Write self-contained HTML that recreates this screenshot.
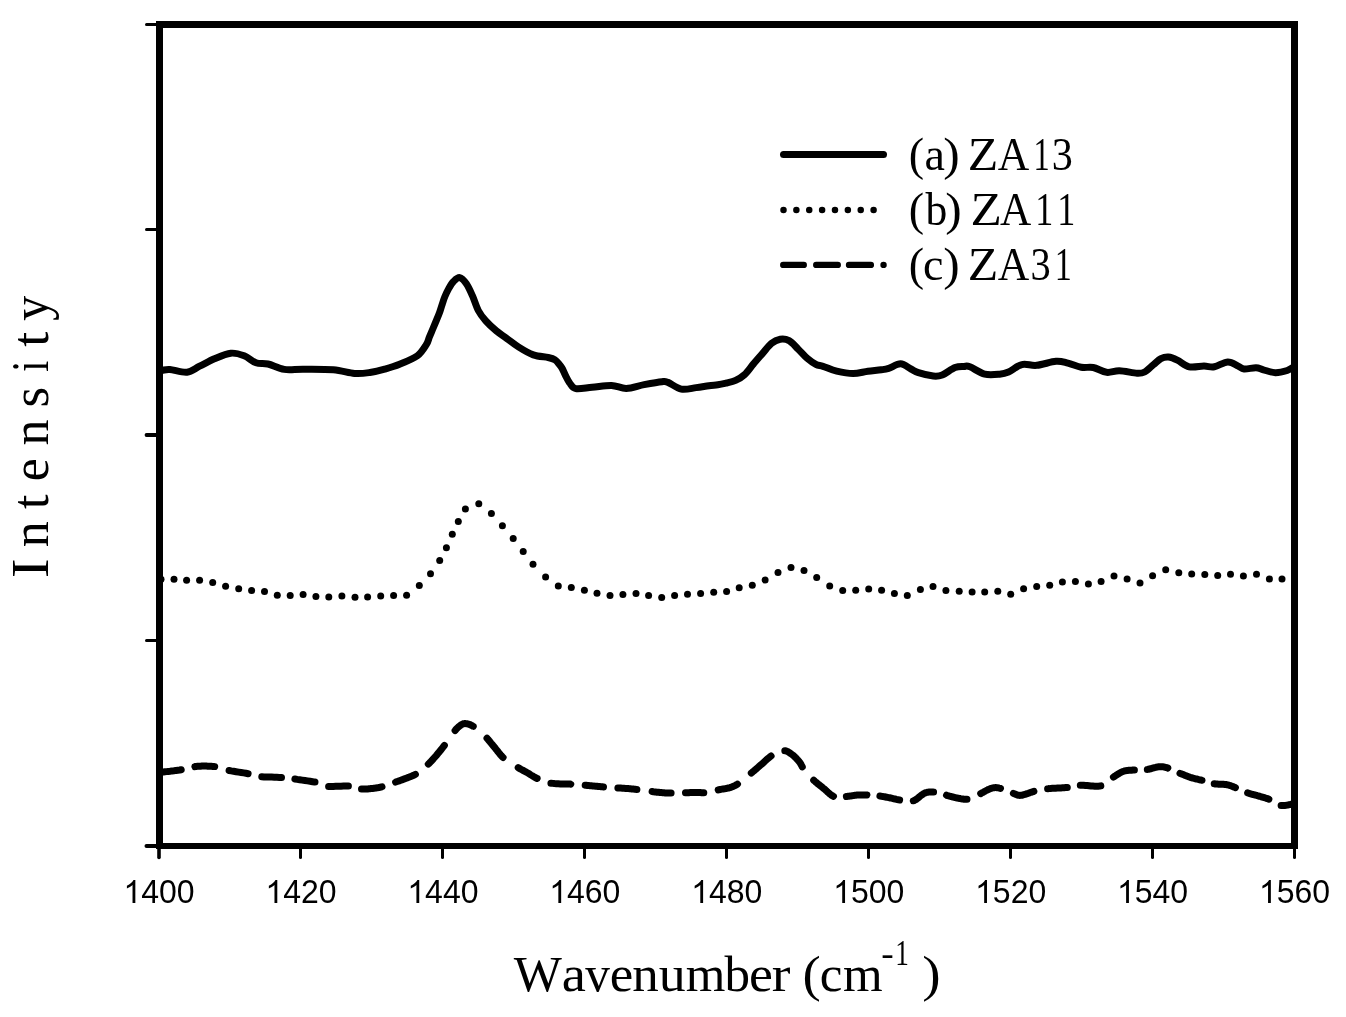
<!DOCTYPE html>
<html><head><meta charset="utf-8"><title>Spectra</title>
<style>
html,body{margin:0;padding:0;background:#fff;}
body{width:1346px;height:1017px;overflow:hidden;font-family:"Liberation Sans",sans-serif;}
svg{display:block;will-change:transform;}
</style></head><body>
<svg width="1346" height="1017" viewBox="0 0 1346 1017"><defs><clipPath id="pc"><rect x="159.5" y="24.5" width="1135" height="821"/></clipPath></defs>
<g clip-path="url(#pc)" fill="none" stroke="#000" stroke-linejoin="round" stroke-linecap="round">
<path d="M159.5,370.5 C160.0,370.5 160.7,370.5 162.4,370.3 C164.1,370.1 165.8,369.2 169.9,369.5 C174.0,369.8 182.1,372.8 187.0,372.2 C191.9,371.6 195.0,368.4 199.6,366.2 C204.2,364.0 209.2,361.0 214.4,358.8 C219.6,356.6 225.8,353.7 230.8,353.2 C235.8,352.7 240.0,354.2 244.2,355.8 C248.4,357.4 252.0,361.4 256.0,362.8 C260.0,364.2 263.3,362.9 268.0,364.0 C272.7,365.1 278.4,368.5 284.3,369.4 C290.2,370.3 295.4,369.1 303.6,369.2 C311.8,369.2 324.8,369.0 333.3,369.7 C341.8,370.4 348.4,372.9 354.5,373.4 C360.6,373.9 364.9,373.2 369.9,372.5 C374.9,371.8 379.8,370.6 384.7,369.2 C389.6,367.8 394.2,366.5 399.6,364.3 C405.1,362.1 412.9,359.1 417.4,355.8 C421.8,352.5 424.3,347.8 426.3,344.7 C428.3,341.6 428.1,340.3 429.2,337.5 C430.3,334.7 432.0,330.9 433.2,328.0 C434.4,325.1 435.4,322.7 436.5,320.1 C437.6,317.5 438.8,314.8 439.7,312.2 C440.6,309.6 441.3,306.9 442.2,304.3 C443.1,301.7 443.8,299.1 444.9,296.5 C446.0,293.9 447.3,291.1 448.7,288.6 C450.1,286.1 451.7,283.3 453.5,281.5 C455.3,279.7 457.6,277.2 459.7,277.6 C461.8,278.0 464.3,280.8 466.4,283.8 C468.5,286.8 470.4,291.2 472.4,295.7 C474.4,300.1 476.1,306.3 478.3,310.5 C480.5,314.7 482.8,317.5 485.8,320.9 C488.8,324.3 492.7,327.9 496.2,330.8 C499.7,333.7 502.9,335.6 506.6,338.3 C510.3,341.0 514.0,344.1 518.4,346.9 C522.8,349.7 528.3,353.1 533.3,354.9 C538.3,356.7 544.6,356.7 548.2,357.5 C551.8,358.3 553.1,358.6 555.0,359.9 C556.9,361.1 558.5,363.5 559.8,365.0 C561.0,366.5 561.6,367.3 562.5,369.0 C563.4,370.7 564.1,372.8 565.3,375.1 C566.5,377.4 567.9,380.6 569.6,382.9 C571.4,385.1 572.0,387.9 575.8,388.6 C579.5,389.3 586.1,387.8 592.1,387.3 C598.1,386.8 605.8,385.2 611.5,385.4 C617.2,385.6 620.8,388.5 626.3,388.4 C631.8,388.3 638.2,385.7 644.2,384.6 C650.2,383.5 658.0,382.1 662.0,381.7 C666.0,381.3 664.8,381.2 668.0,382.4 C671.2,383.6 676.6,388.2 681.3,389.1 C686.0,390.0 691.6,388.2 696.2,387.6 C700.8,387.0 705.3,386.2 708.9,385.7 C712.5,385.2 714.8,385.2 717.8,384.8 C720.8,384.4 723.7,383.7 726.7,383.0 C729.7,382.3 732.6,381.8 735.6,380.4 C738.6,379.0 741.6,377.4 744.6,374.6 C747.6,371.9 750.5,367.4 753.5,363.9 C756.5,360.4 759.4,357.0 762.4,353.6 C765.4,350.2 768.3,345.9 771.3,343.5 C774.3,341.1 777.2,339.8 780.2,339.3 C783.2,338.8 786.1,339.1 789.1,340.7 C792.1,342.3 795.0,346.0 798.0,348.9 C801.0,351.8 804.0,355.5 807.0,358.1 C810.0,360.7 813.2,362.9 815.9,364.3 C818.6,365.7 819.5,365.2 823.0,366.3 C826.5,367.4 831.7,370.0 836.7,371.2 C841.7,372.4 847.9,373.6 853.1,373.6 C858.3,373.6 863.2,371.9 867.9,371.3 C872.6,370.7 877.8,370.3 881.3,369.8 C884.8,369.3 885.5,369.3 888.7,368.3 C891.9,367.3 896.9,363.7 900.6,363.8 C904.3,363.9 908.0,367.5 911.0,369.0 C914.0,370.5 914.7,371.5 918.4,372.7 C922.1,373.9 929.3,375.6 933.3,376.0 C937.3,376.4 938.6,376.4 942.2,375.0 C945.8,373.6 951.4,368.9 955.0,367.5 C958.6,366.1 961.4,366.5 963.9,366.4 C966.4,366.3 966.4,365.5 969.9,366.8 C973.4,368.1 979.8,373.0 984.7,374.2 C989.7,375.4 995.6,374.6 999.6,374.2 C1003.6,373.8 1004.8,373.6 1008.5,372.0 C1012.2,370.4 1017.2,365.7 1021.9,364.6 C1026.6,363.5 1031.0,365.9 1036.7,365.3 C1042.4,364.8 1050.8,361.7 1056.0,361.3 C1061.2,360.9 1063.7,362.1 1067.9,363.1 C1072.1,364.1 1077.1,366.6 1081.3,367.3 C1085.5,368.0 1089.0,366.7 1093.2,367.5 C1097.4,368.3 1102.2,371.8 1106.6,372.3 C1110.9,372.9 1114.2,370.7 1119.3,370.8 C1124.4,370.9 1132.9,373.0 1137.1,373.2 C1141.3,373.4 1141.9,373.4 1144.6,372.0 C1147.3,370.6 1150.8,366.8 1153.5,364.6 C1156.2,362.4 1158.4,359.9 1160.9,358.6 C1163.4,357.4 1165.7,356.9 1168.4,357.1 C1171.1,357.4 1173.8,358.5 1177.3,360.1 C1180.8,361.7 1184.8,365.8 1189.2,366.8 C1193.7,367.8 1199.8,366.1 1204.0,366.1 C1208.2,366.1 1210.4,367.5 1214.4,366.8 C1218.4,366.1 1223.8,362.0 1227.8,361.9 C1231.8,361.8 1235.5,364.9 1238.2,366.1 C1240.9,367.3 1241.1,368.7 1244.1,369.0 C1247.1,369.3 1252.8,367.7 1256.0,367.8 C1259.2,367.9 1260.2,369.0 1263.4,369.8 C1266.6,370.6 1271.3,372.6 1275.3,372.7 C1279.3,372.8 1284.0,371.5 1287.2,370.5 C1290.4,369.5 1293.3,367.2 1294.5,366.5" stroke-width="7"/>
<g fill="#000" stroke="none"><circle cx="161.0" cy="579.2" r="3.5"/><circle cx="174.0" cy="579.2" r="3.5"/><circle cx="186.6" cy="580.2" r="3.5"/><circle cx="199.6" cy="580.3" r="3.5"/><circle cx="212.7" cy="582.4" r="3.5"/><circle cx="225.6" cy="586.3" r="3.5"/><circle cx="238.7" cy="588.7" r="3.5"/><circle cx="251.6" cy="590.4" r="3.5"/><circle cx="264.5" cy="591.6" r="3.5"/><circle cx="277.3" cy="595.2" r="3.5"/><circle cx="290.2" cy="595.5" r="3.5"/><circle cx="303.1" cy="594.6" r="3.5"/><circle cx="315.9" cy="596.4" r="3.5"/><circle cx="328.8" cy="597.0" r="3.5"/><circle cx="341.9" cy="596.1" r="3.5"/><circle cx="355.0" cy="597.3" r="3.5"/><circle cx="367.6" cy="597.0" r="3.5"/><circle cx="380.7" cy="596.1" r="3.5"/><circle cx="393.6" cy="595.5" r="3.5"/><circle cx="406.6" cy="595.2" r="3.5"/><circle cx="419.3" cy="585.5" r="3.5"/><circle cx="430.5" cy="573.7" r="3.5"/><circle cx="439.7" cy="560.6" r="3.5"/><circle cx="446.4" cy="547.7" r="3.5"/><circle cx="452.3" cy="534.3" r="3.5"/><circle cx="458.3" cy="521.6" r="3.5"/><circle cx="465.4" cy="508.9" r="3.5"/><circle cx="478.8" cy="503.7" r="3.5"/><circle cx="491.4" cy="513.5" r="3.5"/><circle cx="502.4" cy="525.7" r="3.5"/><circle cx="513.2" cy="538.4" r="3.5"/><circle cx="523.2" cy="551.4" r="3.5"/><circle cx="533.0" cy="564.3" r="3.5"/><circle cx="545.6" cy="576.9" r="3.5"/><circle cx="558.3" cy="586.1" r="3.5"/><circle cx="571.3" cy="587.5" r="3.5"/><circle cx="584.4" cy="590.2" r="3.5"/><circle cx="597.0" cy="593.2" r="3.5"/><circle cx="610.0" cy="595.4" r="3.5"/><circle cx="622.9" cy="594.5" r="3.5"/><circle cx="636.0" cy="593.5" r="3.5"/><circle cx="648.6" cy="595.4" r="3.5"/><circle cx="661.7" cy="597.5" r="3.5"/><circle cx="674.6" cy="595.6" r="3.5"/><circle cx="687.5" cy="594.2" r="3.5"/><circle cx="700.6" cy="593.5" r="3.5"/><circle cx="713.7" cy="592.3" r="3.5"/><circle cx="726.6" cy="591.4" r="3.5"/><circle cx="739.2" cy="587.8" r="3.5"/><circle cx="752.3" cy="585.3" r="3.5"/><circle cx="765.1" cy="580.1" r="3.5"/><circle cx="778.0" cy="572.4" r="3.5"/><circle cx="791.0" cy="567.5" r="3.5"/><circle cx="804.0" cy="570.5" r="3.5"/><circle cx="816.7" cy="577.4" r="3.5"/><circle cx="829.7" cy="586.1" r="3.5"/><circle cx="842.7" cy="590.5" r="3.5"/><circle cx="855.7" cy="590.2" r="3.5"/><circle cx="868.7" cy="589.0" r="3.5"/><circle cx="881.6" cy="590.2" r="3.5"/><circle cx="894.4" cy="593.5" r="3.5"/><circle cx="907.3" cy="595.4" r="3.5"/><circle cx="920.4" cy="589.5" r="3.5"/><circle cx="933.0" cy="586.5" r="3.5"/><circle cx="945.9" cy="590.5" r="3.5"/><circle cx="959.2" cy="591.3" r="3.5"/><circle cx="972.1" cy="592.0" r="3.5"/><circle cx="984.7" cy="592.0" r="3.5"/><circle cx="997.8" cy="591.3" r="3.5"/><circle cx="1010.7" cy="594.2" r="3.5"/><circle cx="1023.6" cy="588.7" r="3.5"/><circle cx="1036.7" cy="586.5" r="3.5"/><circle cx="1049.7" cy="585.3" r="3.5"/><circle cx="1062.4" cy="582.1" r="3.5"/><circle cx="1075.4" cy="581.6" r="3.5"/><circle cx="1088.4" cy="584.0" r="3.5"/><circle cx="1101.1" cy="581.6" r="3.5"/><circle cx="1114.0" cy="576.1" r="3.5"/><circle cx="1127.1" cy="579.1" r="3.5"/><circle cx="1140.0" cy="583.1" r="3.5"/><circle cx="1152.6" cy="575.7" r="3.5"/><circle cx="1165.7" cy="569.7" r="3.5"/><circle cx="1178.8" cy="572.7" r="3.5"/><circle cx="1191.7" cy="573.9" r="3.5"/><circle cx="1204.8" cy="574.6" r="3.5"/><circle cx="1217.7" cy="575.4" r="3.5"/><circle cx="1230.5" cy="574.2" r="3.5"/><circle cx="1243.4" cy="576.0" r="3.5"/><circle cx="1256.5" cy="574.2" r="3.5"/><circle cx="1269.4" cy="578.9" r="3.5"/><circle cx="1282.0" cy="579.1" r="3.5"/></g>
<path d="M153.5,772.3L159.5,772.3L159.6,772.3L159.6,772.3L159.6,772.3L159.6,772.3L159.6,772.4L159.7,772.4L159.8,772.4L160.1,772.4L160.4,772.3L160.9,772.3L161.5,772.2L162.4,772.1L163.5,772.0L164.9,771.8L166.5,771.6L168.2,771.4L170.1,771.2L172.1,770.9L174.0,770.7L176.0,770.4L177.9,770.2L179.6,770.0L181.2,769.7L181.2,769.7 M194.9,766.6L195.3,766.5L196.3,766.4L197.4,766.3L198.4,766.3L199.5,766.2L200.7,766.2L201.8,766.1L202.9,766.1L204.0,766.1L205.1,766.1L206.4,766.1L207.6,766.2L208.9,766.2L210.1,766.3L211.4,766.3L212.7,766.4L213.9,766.5L214.7,766.6 M229.1,770.5L231.2,770.9L233.6,771.3L236.1,771.7L238.6,772.1L241.2,772.5L243.7,772.9L246.0,773.3L248.1,773.7 M261.8,776.7L261.8,776.7L264.0,776.9L266.5,777.0L269.0,777.0L271.7,777.1L274.3,777.2L276.9,777.3L279.3,777.4L281.5,777.4L281.5,777.4 M294.9,779.0L294.9,779.0L297.2,779.4L299.6,779.7L302.2,780.1L304.9,780.5L307.5,780.9L310.1,781.3L312.6,781.7L314.8,782.1L315.0,782.1 M328.6,786.4L328.6,786.4L330.8,786.4L333.2,786.4L335.7,786.3L338.4,786.2L341.0,786.2L343.5,786.1L346.0,786.1L348.2,786.1L348.4,786.1 M361.5,789.0L361.8,789.0L362.7,789.0L363.7,789.0L364.7,789.0L365.7,789.0L366.8,788.9L367.8,788.9L368.8,788.8L369.9,788.7L370.9,788.6L371.9,788.5L372.8,788.4L373.7,788.3L374.6,788.2L375.5,788.1L376.3,787.9L377.2,787.8L378.0,787.7L378.9,787.5L379.7,787.3L380.6,787.2L381.4,787.0L382.0,786.8 M395.6,782.1L396.3,781.8L397.2,781.5L398.1,781.2L399.0,780.9L399.9,780.6L400.9,780.2L401.8,779.9L402.7,779.6L403.6,779.2L404.6,778.9L405.5,778.5L406.4,778.1L407.4,777.8L408.3,777.4L409.2,777.1L410.2,776.7L411.1,776.4L412.0,776.0L413.0,775.6L413.9,775.1L414.8,774.7L415.4,774.4 M428.3,764.1L428.6,763.8L429.4,763.1L430.2,762.3L430.9,761.5L431.7,760.7L432.4,759.9L433.1,759.1L433.8,758.3L434.5,757.5L435.2,756.7L436.0,755.9L436.7,755.0L437.4,754.1L438.2,753.2L438.9,752.3L439.7,751.4L440.4,750.5L441.2,749.5L441.9,748.6L442.7,747.6L443.4,746.7L444.2,745.7L444.4,745.4 M455.1,730.5L455.3,730.3L455.7,729.8L456.1,729.3L456.5,728.8L456.9,728.4L457.3,728.0L457.7,727.6L458.1,727.2L458.5,726.9L459.0,726.5L459.5,726.1L459.9,725.8L460.4,725.4L460.8,725.1L461.3,724.8L461.8,724.5L462.3,724.2L462.8,724.0L463.3,723.8L463.8,723.7L464.4,723.6L465.0,723.6L465.6,723.6L466.3,723.7L467.0,723.8L467.6,723.9L468.4,724.1L469.1,724.3L469.8,724.6L470.6,724.9L471.4,725.3L472.2,725.7L473.0,726.2L473.3,726.3 M487.0,738.3L487.5,738.8L488.2,739.7L489.0,740.6L489.7,741.4L490.4,742.3L491.1,743.2L491.8,744.0L492.5,744.9L493.3,745.8L494.0,746.6L494.7,747.5L495.4,748.4L496.1,749.3L496.8,750.2L497.5,751.1L498.2,751.9L498.9,752.8L499.6,753.7L500.3,754.6L501.1,755.5L501.9,756.3L502.7,757.2L503.1,757.5 M518.2,767.6L518.9,768.1L519.8,768.6L520.7,769.1L521.5,769.6L522.4,770.0L523.2,770.5L524.0,770.9L524.9,771.4L525.7,771.8L526.5,772.3L527.4,772.8L528.3,773.3L529.1,773.8L529.9,774.3L530.8,774.9L531.6,775.4L532.4,775.9L533.3,776.4L534.1,776.9L535.0,777.4L535.9,777.9L536.8,778.4L537.2,778.5 M550.9,783.2L551.1,783.2L552.7,783.4L554.4,783.6L556.3,783.7L558.3,783.8L560.3,783.9L562.4,783.9L564.5,784.0L566.5,784.0L568.5,784.1L570.5,784.1L570.8,784.2 M585.2,785.2L586.1,785.3L587.4,785.5L588.7,785.6L590.0,785.7L591.4,785.8L592.7,785.9L594.1,786.1L595.5,786.2L596.9,786.3L598.2,786.5L599.7,786.6L601.1,786.7L602.5,786.8L603.5,786.9 M617.9,787.9L619.0,788.0L620.7,788.1L622.4,788.2L624.0,788.3L625.6,788.4L627.0,788.5L628.3,788.6L629.5,788.7L630.6,788.8L631.6,788.9L632.6,789.0L633.5,789.1L634.4,789.2L635.4,789.3L636.4,789.4L636.9,789.4 M652.1,791.5L653.4,791.7L655.2,791.9L656.9,792.2L658.5,792.3L660.0,792.5L661.4,792.6L662.7,792.7L664.0,792.8L665.2,792.9L666.4,792.9L667.5,793.0L668.6,793.0L669.8,793.0L671.0,793.0L671.1,793.0 M685.5,792.8L687.0,792.7L688.7,792.7L690.4,792.6L692.1,792.6L693.6,792.5L695.0,792.5L696.3,792.5L697.5,792.5L698.5,792.5L699.6,792.6L700.5,792.6L701.4,792.7L702.3,792.7L703.2,792.7L703.8,792.7 M718.2,789.9L719.0,789.7L720.0,789.5L720.9,789.3L721.9,789.1L722.7,789.0L723.6,788.9L724.4,788.8L725.3,788.6L726.1,788.5L726.9,788.4L727.6,788.2L728.4,788.0L729.2,787.8L730.0,787.6L730.8,787.3L731.5,787.1L732.2,786.8L732.9,786.5L733.6,786.2L734.3,785.9L735.0,785.5L735.8,785.2L736.5,784.7L737.3,784.3L737.5,784.1 M751.3,773.1L751.7,772.7L752.6,772.0L753.5,771.2L754.4,770.5L755.2,769.7L756.1,769.0L756.9,768.3L757.8,767.5L758.6,766.8L759.5,766.1L760.3,765.3L761.2,764.6L762.1,763.8L762.9,763.1L763.8,762.3L764.6,761.5L765.5,760.7L766.3,759.9L767.2,759.1L768.0,758.4L768.9,757.7L769.8,757.0L770.7,756.3L771.1,756.0 M784.8,750.7L785.1,750.7L785.9,750.9L786.6,751.1L787.3,751.4L788.0,751.8L788.7,752.2L789.4,752.6L790.0,753.1L790.7,753.5L791.3,754.0L792.0,754.5L792.7,755.0L793.3,755.5L794.0,756.1L794.7,756.7L795.3,757.4L796.0,758.0L796.6,758.7L797.2,759.4L797.8,760.0L798.4,760.7L798.9,761.3L799.4,761.9L799.8,762.4L800.2,763.0L800.5,763.4L800.7,763.9L801.0,764.4L801.2,764.8L801.4,765.3L801.7,765.8L802.0,766.3L802.3,766.9L802.3,766.9 M813.7,780.2L814.2,780.7L815.1,781.5L816.0,782.3L817.0,783.1L817.9,783.9L818.9,784.6L819.9,785.4L820.8,786.2L821.8,786.9L822.7,787.7L823.6,788.4L824.5,789.1L825.4,789.9L826.2,790.7L827.1,791.5L827.9,792.3L828.8,793.0L829.6,793.8L830.5,794.4L831.3,795.1L832.2,795.6L833.1,796.1L833.5,796.3 M846.4,796.5L846.9,796.4L847.9,796.3L848.9,796.2L849.9,796.1L850.9,795.9L851.9,795.8L852.9,795.6L853.9,795.4L854.9,795.3L855.9,795.2L856.9,795.1L857.8,795.0L858.7,794.9L859.6,794.9L860.5,794.9L861.4,794.9L862.2,794.9L863.1,794.9L863.9,794.9L864.8,794.9L865.6,794.9L866.5,794.9L866.9,795.0 M879.9,796.0L880.5,796.1L881.5,796.3L882.5,796.4L883.5,796.6L884.5,796.8L885.6,797.0L886.6,797.2L887.6,797.4L888.6,797.6L889.6,797.8L890.5,798.0L891.4,798.2L892.3,798.4L893.2,798.6L894.0,798.8L894.9,799.0L895.7,799.2L896.5,799.4L897.4,799.6L898.2,799.7L899.1,799.9L899.6,800.0 M913.3,800.8L913.7,800.7L914.5,800.4L915.3,799.9L916.2,799.4L917.0,798.8L917.7,798.2L918.5,797.6L919.2,797.0L919.9,796.4L920.5,795.9L921.1,795.4L921.7,795.0L922.2,794.7L922.6,794.4L923.0,794.1L923.3,793.9L923.6,793.7L923.9,793.5L924.2,793.4L924.4,793.2L924.7,793.1L925.1,792.9L925.4,792.8L925.9,792.7L926.4,792.6L926.9,792.4L927.4,792.3L927.9,792.2L928.5,792.1L929.1,792.0L929.7,791.9L930.3,791.9L931.0,791.9L931.8,791.9L932.6,791.9L933.4,792.0L933.6,792.0 M946.5,795.2L946.7,795.3L947.7,795.6L948.6,795.8L949.5,796.1L950.4,796.3L951.2,796.5L952.1,796.8L952.9,797.0L953.7,797.2L954.6,797.5L955.4,797.6L956.2,797.8L957.1,798.0L958.0,798.2L958.8,798.3L959.7,798.5L960.5,798.7L961.4,798.9L962.2,799.0L963.1,799.1L963.9,799.2L964.8,799.3L965.7,799.3L966.6,799.2L967.0,799.2 M980.7,793.6L981.4,793.2L982.4,792.7L983.5,792.1L984.5,791.5L985.5,790.9L986.6,790.4L987.6,789.9L988.5,789.4L989.5,789.0L990.4,788.6L991.3,788.3L992.1,788.1L992.9,787.9L993.6,787.8L994.3,787.7L995.0,787.6L995.7,787.6L996.3,787.6L997.0,787.7L997.7,787.8L998.5,787.9L999.3,788.1L1000.2,788.3L1000.5,788.4 M1013.4,793.4L1013.6,793.5L1014.4,793.8L1015.1,794.1L1015.7,794.3L1016.3,794.6L1016.8,794.8L1017.3,795.0L1017.8,795.1L1018.3,795.3L1018.9,795.3L1019.5,795.4L1020.2,795.4L1021.0,795.3L1021.9,795.2L1022.9,795.0L1023.9,794.7L1025.0,794.3L1026.2,794.0L1027.3,793.6L1028.5,793.2L1029.7,792.7L1030.9,792.3L1032.1,792.0L1033.3,791.6L1033.9,791.4 M1047.6,788.7L1047.8,788.7L1049.2,788.6L1050.7,788.4L1052.3,788.3L1054.0,788.2L1055.7,788.2L1057.5,788.1L1059.2,788.0L1060.9,787.9L1062.6,787.8L1064.2,787.7L1065.7,787.6L1067.1,787.5L1067.3,787.5 M1080.3,785.3L1080.5,785.3L1082.0,785.3L1083.6,785.3L1085.4,785.5L1087.2,785.6L1089.1,785.8L1091.0,786.0L1092.9,786.1L1094.7,786.2L1096.5,786.3L1098.3,786.2L1099.8,786.1L1100.8,785.9 M1113.4,777.1L1114.3,776.5L1115.2,775.9L1116.1,775.3L1116.9,774.8L1117.8,774.2L1118.6,773.7L1119.4,773.2L1120.3,772.7L1121.1,772.3L1122.0,771.9L1122.9,771.5L1123.8,771.2L1124.7,770.9L1125.7,770.7L1126.7,770.6L1127.7,770.4L1128.7,770.3L1129.7,770.3L1130.7,770.2L1131.7,770.2L1132.7,770.1L1133.7,770.1L1134.4,770.1 M1147.3,769.4L1147.5,769.4L1148.5,769.2L1149.5,769.0L1150.5,768.8L1151.6,768.5L1152.6,768.2L1153.6,767.9L1154.6,767.6L1155.6,767.4L1156.6,767.1L1157.6,766.9L1158.5,766.8L1159.4,766.7L1160.2,766.7L1161.0,766.7L1161.8,766.7L1162.5,766.8L1163.2,766.8L1163.9,767.0L1164.6,767.1L1165.3,767.3L1166.0,767.5L1166.8,767.7L1167.6,767.9L1167.8,768.0 M1180.0,773.3L1180.2,773.4L1181.2,773.8L1182.2,774.2L1183.2,774.6L1184.2,775.0L1185.2,775.4L1186.2,775.8L1187.2,776.2L1188.2,776.6L1189.2,776.9L1190.2,777.3L1191.2,777.6L1192.1,777.9L1193.0,778.2L1193.9,778.4L1194.8,778.6L1195.6,778.8L1196.5,779.0L1197.3,779.2L1198.1,779.4L1199.0,779.6L1199.8,779.8L1200.7,780.0L1201.6,780.2L1202.0,780.3 M1214.2,783.8L1214.4,783.8L1215.4,784.0L1216.4,784.1L1217.4,784.1L1218.5,784.2L1219.5,784.2L1220.5,784.2L1221.6,784.2L1222.6,784.3L1223.5,784.3L1224.5,784.4L1225.4,784.5L1226.3,784.6L1227.1,784.8L1227.9,784.9L1228.7,785.1L1229.4,785.3L1230.1,785.5L1230.8,785.8L1231.4,786.0L1232.1,786.3L1232.8,786.6L1233.6,786.9L1234.4,787.2L1235.2,787.5L1235.4,787.6 M1247.6,792.9L1248.0,793.0L1248.9,793.3L1249.8,793.6L1250.6,793.8L1251.5,794.1L1252.3,794.3L1253.1,794.5L1254.0,794.7L1254.8,795.0L1255.7,795.2L1256.6,795.4L1257.5,795.7L1258.4,796.0L1259.4,796.2L1260.4,796.5L1261.4,796.8L1262.4,797.1L1263.4,797.4L1264.4,797.7L1265.4,798.0L1266.4,798.3L1267.4,798.6L1268.4,799.0L1268.9,799.2 M1281.1,805.4L1281.3,805.4L1282.4,805.5L1283.6,805.5L1284.8,805.4L1286.1,805.3L1287.4,805.1L1288.6,804.8L1289.9,804.6L1291.0,804.3L1292.1,804.0L1293.0,803.8L1293.9,803.6L1294.5,803.5L1296.5,803.5" stroke-width="7"/>
</g>
<g stroke="#000" fill="none">
<line x1="156" y1="24.5" x2="1298" y2="24.5" stroke-width="7"/>
<line x1="159.5" y1="21" x2="159.5" y2="849" stroke-width="7"/>
<line x1="1294.5" y1="21" x2="1294.5" y2="849" stroke-width="7"/>
<line x1="156" y1="846" x2="1298" y2="846" stroke-width="6"/>
<line x1="146.5" y1="24.5" x2="157" y2="24.5" stroke-width="3" stroke-linecap="round"/>
<line x1="146.5" y1="229.5" x2="157" y2="229.5" stroke-width="3" stroke-linecap="round"/>
<line x1="146.5" y1="435" x2="157" y2="435" stroke-width="3.8" stroke-linecap="round"/>
<line x1="146.5" y1="640.5" x2="157" y2="640.5" stroke-width="3" stroke-linecap="round"/>
<line x1="146.5" y1="846" x2="157" y2="846" stroke-width="4" stroke-linecap="round"/>
<line x1="159.0" y1="847" x2="159.0" y2="857.5" stroke-width="3.6" stroke-linecap="round"/>
<line x1="300.5" y1="847" x2="300.5" y2="857.5" stroke-width="3" stroke-linecap="round"/>
<line x1="442.5" y1="847" x2="442.5" y2="857.5" stroke-width="3" stroke-linecap="round"/>
<line x1="584.5" y1="847" x2="584.5" y2="857.5" stroke-width="3" stroke-linecap="round"/>
<line x1="726.5" y1="847" x2="726.5" y2="857.5" stroke-width="3" stroke-linecap="round"/>
<line x1="868.5" y1="847" x2="868.5" y2="857.5" stroke-width="3" stroke-linecap="round"/>
<line x1="1010.5" y1="847" x2="1010.5" y2="857.5" stroke-width="3" stroke-linecap="round"/>
<line x1="1152.5" y1="847" x2="1152.5" y2="857.5" stroke-width="3" stroke-linecap="round"/>
<line x1="1294.5" y1="847" x2="1294.5" y2="857.5" stroke-width="3" stroke-linecap="round"/>
</g>
<g font-family="Liberation Sans, sans-serif" font-size="32" fill="#000"><text transform="translate(141.21,903) scale(1,1.04)">400</text><text transform="translate(283.15,903) scale(1,1.04)">420</text><text transform="translate(425.09,903) scale(1,1.04)">440</text><text transform="translate(567.03,903) scale(1,1.04)">460</text><text transform="translate(708.97,903) scale(1,1.04)">480</text><text transform="translate(850.91,903) scale(1,1.04)">500</text><text transform="translate(992.85,903) scale(1,1.04)">520</text><text transform="translate(1134.79,903) scale(1,1.04)">540</text><text transform="translate(1276.73,903) scale(1,1.04)">560</text><path transform="translate(123.42,903) scale(0.015625,-0.015625)" d="M763,0L583,0L583,1147Q518,1085 412.5,1023Q307,961 223,930L223,1104Q374,1175 487,1276Q600,1377 647,1472L763,1472Z"/><path transform="translate(265.37,903) scale(0.015625,-0.015625)" d="M763,0L583,0L583,1147Q518,1085 412.5,1023Q307,961 223,930L223,1104Q374,1175 487,1276Q600,1377 647,1472L763,1472Z"/><path transform="translate(407.31,903) scale(0.015625,-0.015625)" d="M763,0L583,0L583,1147Q518,1085 412.5,1023Q307,961 223,930L223,1104Q374,1175 487,1276Q600,1377 647,1472L763,1472Z"/><path transform="translate(549.24,903) scale(0.015625,-0.015625)" d="M763,0L583,0L583,1147Q518,1085 412.5,1023Q307,961 223,930L223,1104Q374,1175 487,1276Q600,1377 647,1472L763,1472Z"/><path transform="translate(691.18,903) scale(0.015625,-0.015625)" d="M763,0L583,0L583,1147Q518,1085 412.5,1023Q307,961 223,930L223,1104Q374,1175 487,1276Q600,1377 647,1472L763,1472Z"/><path transform="translate(833.12,903) scale(0.015625,-0.015625)" d="M763,0L583,0L583,1147Q518,1085 412.5,1023Q307,961 223,930L223,1104Q374,1175 487,1276Q600,1377 647,1472L763,1472Z"/><path transform="translate(975.06,903) scale(0.015625,-0.015625)" d="M763,0L583,0L583,1147Q518,1085 412.5,1023Q307,961 223,930L223,1104Q374,1175 487,1276Q600,1377 647,1472L763,1472Z"/><path transform="translate(1117.00,903) scale(0.015625,-0.015625)" d="M763,0L583,0L583,1147Q518,1085 412.5,1023Q307,961 223,930L223,1104Q374,1175 487,1276Q600,1377 647,1472L763,1472Z"/><path transform="translate(1258.94,903) scale(0.015625,-0.015625)" d="M763,0L583,0L583,1147Q518,1085 412.5,1023Q307,961 223,930L223,1104Q374,1175 487,1276Q600,1377 647,1472L763,1472Z"/></g>
<g font-family="Liberation Serif, serif" font-size="52" fill="#000" transform="translate(48.1,0) rotate(-90)"><text transform="translate(-576.20,0) scale(1.154,1)" x="-1.88">I</text><text x="-547.19" y="0">n</text><text x="-509.11" y="0">t</text><text x="-481.13" y="0">e</text><text x="-445.49" y="0">n</text><text transform="translate(-405.40,0) scale(1.023,1)" x="-2.13">s</text><text transform="translate(-370.90,0) scale(0.768,1)" x="-1.09">i</text><text transform="translate(-346.10,0) scale(1.041,1)" x="-0.51">t</text><text transform="translate(-320.10,0) scale(0.962,1)" x="-0.63">y</text></g>
<g font-family="Liberation Serif, serif" font-size="51" fill="#000"><text x="513.85" y="991">W</text><text transform="translate(563.70,991) scale(1.067,1)" x="-1.79">a</text><text transform="translate(585.20,991) scale(0.965,1)" x="-0.00">v</text><text transform="translate(611.70,991) scale(1.038,1)" x="-1.99">e</text><text transform="translate(633.50,991) scale(1.040,1)" x="-1.17">n</text><text transform="translate(659.50,991) scale(1.056,1)" x="-0.67">u</text><text x="685.63" y="991">m</text><text x="724.60" y="991">b</text><text transform="translate(751.00,991) scale(1.054,1)" x="-1.99">e</text><text transform="translate(772.90,991) scale(1.102,1)" x="-1.02">r</text><text transform="translate(804.80,991) scale(1.076,1)" x="-2.24">(</text><text x="819.86" y="991">c</text><text x="842.93" y="991">m</text></g>
<g font-family="Liberation Serif, serif" font-size="35" fill="#000"><text transform="translate(882.60,965) scale(1.067,1)" x="-1.30">-</text><text transform="translate(897.60,965) scale(0.779,1)" x="-3.08">1</text></g>
<g font-family="Liberation Serif, serif" font-size="51" fill="#000"><text transform="translate(923.90,991) scale(1.084,1)" x="-1.64">)</text></g>
<g stroke="#000" fill="none" stroke-linecap="round">
<line x1="783.5" y1="154.4" x2="883.5" y2="154.4" stroke-width="7"/>
<line x1="783.5" y1="209.9" x2="883.5" y2="209.9" stroke-width="6.5" stroke-dasharray="0 12.87"/>
<path d="M783.2,264.9H803.8M816.2,264.9H837.8M849,264.9H870.9M883.5,264.9H883.6" stroke-width="6.3"/>
</g>
<g font-family="Liberation Serif, serif" font-size="46" fill="#000"><text x="908.68" y="169.85">(</text><text x="924.38" y="169.85">a</text><text transform="translate(944.80,169.85) scale(1.075,1)" x="-1.48">)</text><text transform="translate(970.20,169.85) scale(1.086,1)" x="-2.20">Z</text><text transform="translate(998.30,169.85) scale(0.947,1)" x="-0.45">A</text><text transform="translate(1036.40,169.85) scale(0.704,1)" x="-4.04">1</text><text transform="translate(1053.80,169.85) scale(0.916,1)" x="-2.20">3</text></g>
<g font-family="Liberation Serif, serif" font-size="46" fill="#000"><text x="908.68" y="225.1">(</text><text transform="translate(925.40,225.1) scale(0.946,1)" x="-0.00">b</text><text transform="translate(946.80,225.1) scale(1.075,1)" x="-1.48">)</text><text transform="translate(972.90,225.1) scale(1.116,1)" x="-2.20">Z</text><text transform="translate(1000.30,225.1) scale(0.940,1)" x="-0.45">A</text><text transform="translate(1038.40,225.1) scale(0.784,1)" x="-4.04">1</text><text transform="translate(1060.50,225.1) scale(0.784,1)" x="-4.04">1</text></g>
<g font-family="Liberation Serif, serif" font-size="46" fill="#000"><text x="908.68" y="279.85">(</text><text x="922.95" y="279.85">c</text><text transform="translate(944.80,279.85) scale(1.075,1)" x="-1.48">)</text><text transform="translate(970.20,279.85) scale(1.086,1)" x="-2.20">Z</text><text transform="translate(998.30,279.85) scale(0.947,1)" x="-0.45">A</text><text transform="translate(1032.40,279.85) scale(0.879,1)" x="-2.20">3</text><text transform="translate(1057.80,279.85) scale(0.741,1)" x="-4.04">1</text></g></svg>
</body></html>
